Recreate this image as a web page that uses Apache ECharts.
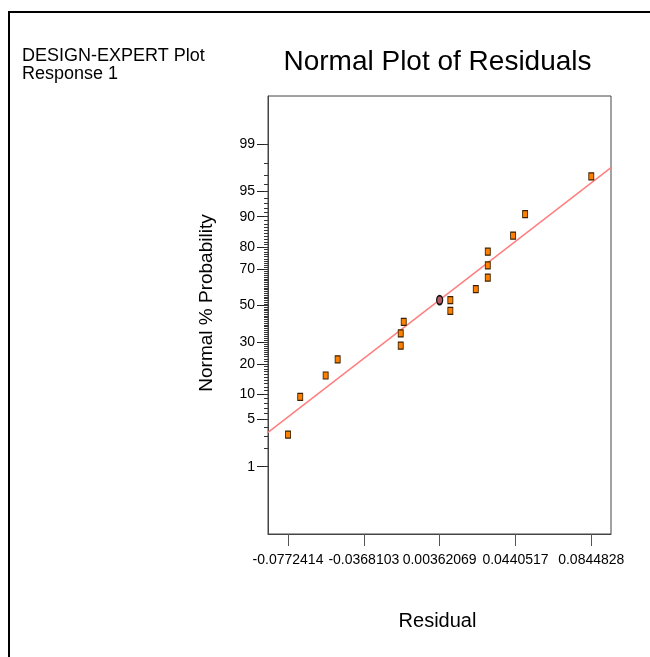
<!DOCTYPE html>
<html>
<head>
<meta charset="utf-8">
<script src="https://cdn.jsdelivr.net/npm/echarts@6/dist/echarts.min.js"></script>
<style>
html,body{margin:0;padding:0;background:#fff;}
#chart{width:650px;height:657px;}
</style>
</head>
<body>
<div id="chart"></div>
<script>
// ---- data ----
const residuals = [-0.0772414, -0.07073, -0.05717, -0.05077, -0.01714, -0.01714, -0.01554, 0.00933, 0.00933, 0.02289, 0.02929, 0.02929, 0.02929, 0.04280, 0.04920, 0.0844828];
const percents  = [3.125, 9.375, 15.625, 21.875, 28.125, 34.375, 40.625, 46.875, 53.125, 59.375, 65.625, 71.875, 78.125, 84.375, 90.625, 96.875];
const highlightResidual = [0.00362];
const highlightPercent  = [53.125];
const lineResidual = [-0.087916, 0.094997];
const linePercent  = [3.36, 97.67];
const xTickLabels = ['-0.0772414', '-0.0368103', '0.00362069', '0.0440517', '0.0844828'];
const yTickLabels = ['1', '5', '10', '20', '30', '50', '70', '80', '90', '95', '99'];
const yMinorPercents = Array.from({length: 99}, (_, i) => i + 1); // minor ticks every 1 %
const xRange = [-0.087916, 0.094997];
const zRange = [-3.298, 3.024];

// inverse of the standard normal CDF (probability scale of the axis)
function probit(p) {
  const a = [-3.969683028665376e+01, 2.209460984245205e+02, -2.759285104469687e+02, 1.383577518672690e+02, -3.066479806614716e+01, 2.506628277459239e+00];
  const b = [-5.447609879822406e+01, 1.615858368580409e+02, -1.556989798598866e+02, 6.680131188771972e+01, -1.328068155288572e+01];
  const c = [-7.784894002430293e-03, -3.223964580411365e-01, -2.400758277161838e+00, -2.549732539343734e+00, 4.374664141464968e+00, 2.938163982698783e+00];
  const d = [7.784695709041462e-03, 3.224671290700398e-01, 2.445134137142996e+00, 3.754408661907416e+00];
  const pl = 0.02425, ph = 1 - pl;
  let q, r;
  if (p < pl) {
    q = Math.sqrt(-2 * Math.log(p));
    return (((((c[0]*q+c[1])*q+c[2])*q+c[3])*q+c[4])*q+c[5]) / ((((d[0]*q+d[1])*q+d[2])*q+d[3])*q+1);
  } else if (p <= ph) {
    q = p - 0.5; r = q * q;
    return (((((a[0]*r+a[1])*r+a[2])*r+a[3])*r+a[4])*r+a[5])*q / (((((b[0]*r+b[1])*r+b[2])*r+b[3])*r+b[4])*r+1);
  } else {
    q = Math.sqrt(-2 * Math.log(1 - p));
    return -(((((c[0]*q+c[1])*q+c[2])*q+c[3])*q+c[4])*q+c[5]) / ((((d[0]*q+d[1])*q+d[2])*q+d[3])*q+1);
  }
}
const z = pct => probit(pct / 100);

const FONT = "'Liberation Sans', Arial, Helvetica, sans-serif";
const xTickValues = xTickLabels.map(Number);
const yMajorZ = yTickLabels.map(t => z(Number(t)));
const yMinorZ = yMinorPercents.map(z);

const chart = echarts.init(document.getElementById('chart'), null, {renderer: 'canvas'});
chart.setOption({
  backgroundColor: '#ffffff',
  animation: false,
  grid: {left: 268, top: 96, right: 39, bottom: 123, show: true, borderColor: '#444', borderWidth: 1, backgroundColor: 'transparent'},
  xAxis: {
    type: 'value', min: xRange[0], max: xRange[1], position: 'bottom',
    axisLine: {show: true, onZero: false, lineStyle: {color: '#444', width: 1}},
    axisTick: {show: true, customValues: xTickValues, length: 12, lineStyle: {color: '#555', width: 1}},
    axisLabel: {show: true, customValues: xTickValues, margin: 19, fontFamily: FONT, fontSize: 14, color: '#000',
      formatter: v => { const i = xTickValues.findIndex(t => Math.abs(t - v) < 1e-9); return i >= 0 ? xTickLabels[i] : ''; }},
    splitLine: {show: false}
  },
  yAxis: [{
    type: 'value', min: zRange[0], max: zRange[1], position: 'left',
    axisLine: {show: true, onZero: false, lineStyle: {color: '#444', width: 1}},
    axisTick: {show: true, customValues: yMajorZ, length: 11, lineStyle: {color: '#222', width: 1}},
    axisLabel: {show: true, customValues: yMajorZ, margin: 13, fontFamily: FONT, fontSize: 14, color: '#000',
      formatter: v => { const i = yMajorZ.findIndex(t => Math.abs(t - v) < 1e-9); return i >= 0 ? yTickLabels[i] : ''; }},
    splitLine: {show: false}
  }, {
    type: 'value', min: zRange[0], max: zRange[1], position: 'left', offset: 0,
    axisLine: {show: false, onZero: false},
    axisTick: {show: true, customValues: yMinorZ, length: 4, lineStyle: {color: '#333', width: 1}},
    axisLabel: {show: false},
    splitLine: {show: false}
  }],
  series: [{
    type: 'line', silent: true, symbol: 'none',
    data: lineResidual.map((r, i) => [r, z(linePercent[i])]),
    lineStyle: {color: '#ff7f7f', width: 1.5}, z: 2
  }, {
    type: 'scatter', symbol: 'rect', symbolSize: [5, 7],
    data: residuals.map((r, i) => [r, z(percents[i])]),
    itemStyle: {color: '#ff8000', borderColor: '#3a2000', borderWidth: 1, opacity: 1}, z: 3
  }, {
    type: 'scatter', symbol: 'path://M0,-1A1,1,0,1,1,0,1A1,1,0,1,1,0,-1Z', symbolSize: [6, 9],
    data: highlightResidual.map((r, i) => [r, z(highlightPercent[i])]),
    itemStyle: {color: '#b35a66', borderColor: '#111', borderWidth: 1.5, opacity: 1}, z: 4
  }],
  graphic: [
    {type: 'polyline', shape: {points: [[9, 657], [9, 12], [650, 12]]}, style: {stroke: '#000', lineWidth: 2, fill: null}},
    {type: 'text', x: 437.5, y: 62, style: {text: 'Normal Plot of Residuals', font: '28px ' + FONT, fill: '#000', align: 'center', verticalAlign: 'middle', textAlign: 'center', textVerticalAlign: 'middle'}},
    {type: 'text', x: 22, y: 56, style: {text: 'DESIGN-EXPERT Plot', font: '18px ' + FONT, fill: '#000', align: 'left', verticalAlign: 'middle', textAlign: 'left', textVerticalAlign: 'middle'}},
    {type: 'text', x: 22, y: 74, style: {text: 'Response 1', font: '18px ' + FONT, fill: '#000', align: 'left', verticalAlign: 'middle', textAlign: 'left', textVerticalAlign: 'middle'}},
    {type: 'text', x: 207, y: 303, rotation: Math.PI / 2, style: {text: 'Normal % Probability', font: '19px ' + FONT, fill: '#000', align: 'center', verticalAlign: 'middle', textAlign: 'center', textVerticalAlign: 'middle'}},
    {type: 'text', x: 437.5, y: 621.4, style: {text: 'Residual', font: '20px ' + FONT, fill: '#000', align: 'center', verticalAlign: 'middle', textAlign: 'center', textVerticalAlign: 'middle'}}
  ]
});
</script>
</body>
</html>
